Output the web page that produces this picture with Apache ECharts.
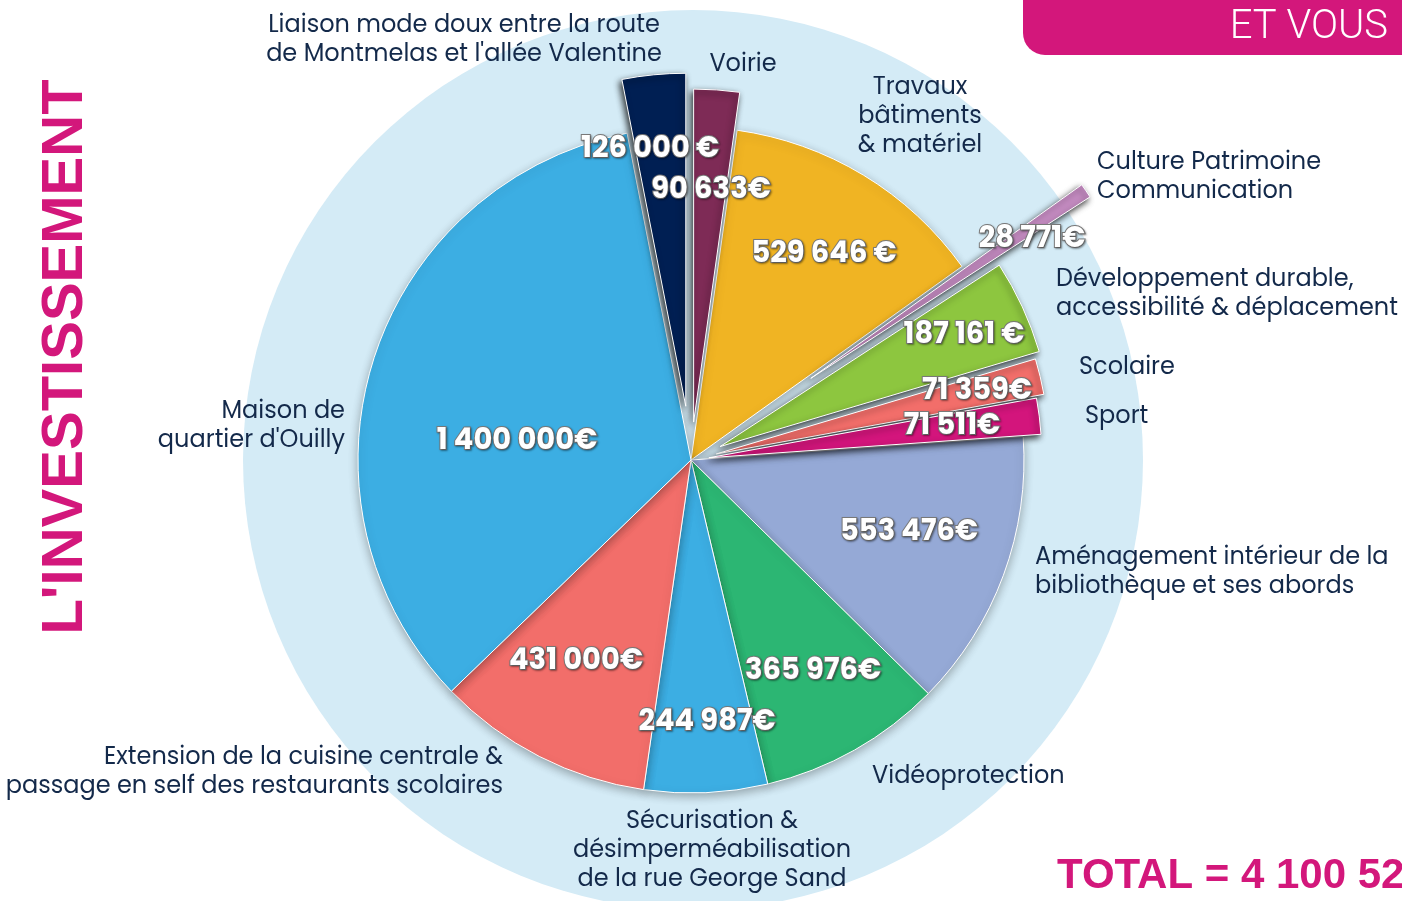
<!DOCTYPE html>
<html>
<head>
<meta charset="utf-8">
<script src="https://cdn.jsdelivr.net/npm/echarts@6/dist/echarts.min.js"></script>
<style>
  html, body { margin: 0; padding: 0; background: #fff; }
  #main { width: 1402px; height: 901px; }
</style>
</head>
<body>
<div id="main"></div>
<script>
// slices, clockwise from 12 o'clock
var categories = [
    'Voirie',
    'Travaux\nbâtiments\n& matériel',
    'Culture Patrimoine\nCommunication',
    'Développement durable,\naccessibilité & déplacement',
    'Scolaire',
    'Sport',
    'Aménagement intérieur de la\nbibliothèque et ses abords',
    'Vidéoprotection',
    'Sécurisation &\ndésimperméabilisation\nde la rue George Sand',
    'Extension de la cuisine centrale &\npassage en self des restaurants scolaires',
    "Maison de\nquartier d'Ouilly",
    "Liaison mode doux entre la route\nde Montmelas et l'allée Valentine"
];
var amounts = [90633, 529646, 28771, 187161, 71359, 71511, 553476, 365976, 244987, 431000, 1400000, 126000];
var amountLabels = ['90 633€', '529 646 €', '28 771€', '187 161 €', '71 359€', '71 511€',
    '553 476€', '365 976€', '244 987€', '431 000€', '1 400 000€', '126 000 €'];

// styling / layout (kept apart from the data)
var colors = ['#7e2b56', '#f0b423', '#c48bc1', '#8dc63f', '#f26e6a', '#d3157c',
    '#95a9d6', '#2cb673', '#3caee3', '#f26e6a', '#3caee3', '#001f53'];
var explode = [38, 0, 145, 32, 26, 18, 0, 0, 0, 0, 0, 54];
var valueAt = [[711, 191], [824, 255], [1032, 240], [964, 336], [977, 392], [952, 427],
    [909, 533], [813, 672], [707, 723], [576, 662], [517, 442], [650, 150]];
var nameAt = [[743, 65, 'center'], [920, 117, 'center'], [1097, 177, 'left'], [1056, 294, 'left'],
    [1079, 368, 'left'], [1085, 417, 'left'], [1035, 572, 'left'], [872, 777, 'left'],
    [712, 851, 'center'], [503, 772, 'right'], [345, 426, 'right'], [464, 40, 'center']];

var PINK = '#d3177b';
var NAVY = '#13294a';
var CENTER = [691, 460];
var RADIUS = 333;
var FONT = 'Poppins, Inter, "Noto Sans", sans-serif';
var HIDDEN = { color: 'rgba(0,0,0,0)', borderWidth: 0, shadowBlur: 0, shadowColor: 'rgba(0,0,0,0)' };

function formatAmount(n) {
    return String(n).replace(/\B(?=(\d{3})+(?!\d))/g, ' ');
}

function slicesSeries(i) {
    // one pie per slice so each can have its own pull-out distance
    var pulled = explode[i] > 0;
    return {
        type: 'pie',
        center: CENTER,
        radius: RADIUS,
        startAngle: 90,
        clockwise: true,
        avoidLabelOverlap: false,
        selectedMode: 'single',
        selectedOffset: explode[i],
        silent: true,
        emphasis: { disabled: true },
        label: { show: false },
        labelLine: { show: false },
        z: pulled ? 3 : 2,
        data: amounts.map(function (v, j) {
            if (j !== i) return { value: v, name: categories[j], itemStyle: HIDDEN };
            return {
                value: v,
                name: categories[j],
                selected: pulled,
                itemStyle: pulled ? {
                    color: colors[j], borderColor: '#fff', borderWidth: 1,
                    shadowBlur: 6, shadowColor: 'rgba(0,0,0,0.8)', shadowOffsetX: -2, shadowOffsetY: 3
                } : {
                    color: colors[j], borderColor: '#fff', borderWidth: 1,
                    shadowBlur: 10, shadowColor: 'rgba(0,0,0,0.3)', shadowOffsetY: 3
                }
            };
        })
    };
}

function labelSeries(kind) {
    var isValue = kind === 'value';
    return {
        type: 'pie',
        center: CENTER,
        radius: RADIUS,
        startAngle: 90,
        clockwise: true,
        avoidLabelOverlap: false,
        silent: true,
        z: isValue ? 6 : 5,
        emphasis: { disabled: true },
        itemStyle: HIDDEN,
        labelLine: { show: false },
        label: isValue ? {
            show: true,
            position: 'inside',
            formatter: function (p) { return amountLabels[p.dataIndex]; },
            color: '#fff',
            fontFamily: FONT,
            fontWeight: 'bold',
            fontSize: 29,
            textBorderColor: '#7a7a7a',
            textBorderWidth: 2,
            textShadowColor: 'rgba(0,0,0,0.35)',
            textShadowBlur: 2,
            textShadowOffsetX: 1,
            textShadowOffsetY: 1
        } : {
            show: true,
            position: 'inside',
            formatter: '{b}',
            color: NAVY,
            fontFamily: FONT,
            fontSize: 24,
            lineHeight: 29
        },
        labelLayout: function (p) {
            if (isValue) {
                var v = valueAt[p.dataIndex];
                return { x: v[0], y: v[1], align: 'center', verticalAlign: 'middle' };
            }
            var n = nameAt[p.dataIndex];
            return { x: n[0], y: n[1], align: n[2], verticalAlign: 'middle' };
        },
        data: amounts.map(function (v, j) { return { value: v, name: categories[j] }; })
    };
}

var total = amounts.reduce(function (a, b) { return a + b; }, 0);

var series = [];
for (var i = 0; i < amounts.length; i++) series.push(slicesSeries(i));
series.push(labelSeries('name'));
series.push(labelSeries('value'));

var myChart = echarts.init(document.getElementById('main'), null, { renderer: 'canvas' });
myChart.setOption({
    animation: false,
    backgroundColor: '#fff',
    graphic: [
        { type: 'circle', z: -10, shape: { cx: 693, cy: 460, r: 450 }, style: { fill: '#d4ebf6' }, silent: true },
        { type: 'rect', z: -10, shape: { x: 1023, y: -2, width: 400, height: 57, r: [0, 0, 0, 22] }, style: { fill: PINK }, silent: true },
        {
            type: 'text', x: 1388, y: 28, silent: true,
            style: { text: 'ET VOUS', fill: '#fff', font: '300 40px Roboto, "Liberation Sans", sans-serif', textAlign: 'right', textVerticalAlign: 'middle' }
        },
        {
            type: 'text', x: 66, y: 357, rotation: Math.PI / 2, silent: true,
            style: { text: "L'INVESTISSEMENT", fill: PINK, font: 'bold 58px "Liberation Sans", Arial, sans-serif', textAlign: 'center', textVerticalAlign: 'middle' }
        },
        {
            type: 'text', x: 1057, y: 876, silent: true,
            style: { text: 'TOTAL = ' + formatAmount(total) + ' €', fill: PINK, font: 'bold 42px "Liberation Sans", Arial, sans-serif', textAlign: 'left', textVerticalAlign: 'middle' }
        }
    ],
    series: series
});
</script>
</body>
</html>
